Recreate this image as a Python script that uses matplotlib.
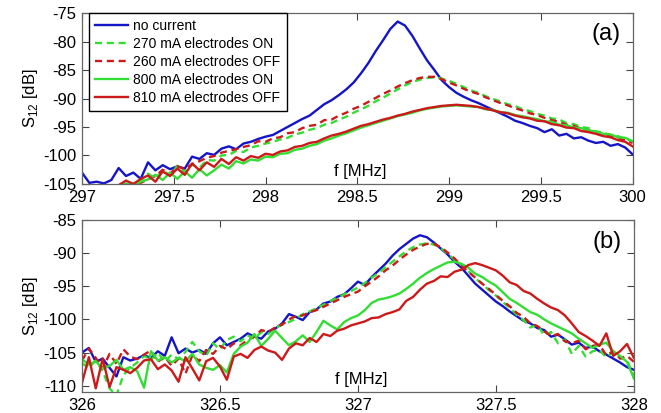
import numpy as np
import matplotlib
matplotlib.use("Agg")
import matplotlib.pyplot as plt
from matplotlib.ticker import StrMethodFormatter

plt.rcParams['font.family'] = ['Liberation Sans', 'DejaVu Sans']
plt.rcParams['mathtext.fontset'] = 'custom'
plt.rcParams['mathtext.rm'] = 'Liberation Sans'
plt.rcParams['axes.unicode_minus'] = False

# --- panel (a): resonance near 299 MHz ---
f_a = np.linspace(297.0, 300.0, 76)

a_no_current = [
    -103.0, -104.8, -104.6, -104.9, -104.3, -102.2, -103.6, -103.0, -104.1, -101.2,
    -102.6, -101.7, -102.4, -101.9, -102.3, -100.2, -100.6, -99.6, -99.9, -98.8,
    -98.4, -98.9, -97.9, -97.6, -97.1, -96.7, -96.4, -95.7, -95.0, -94.3,
    -93.6, -93.0, -92.0, -91.0, -90.3, -89.4, -88.4, -87.2, -85.6, -83.8,
    -81.7, -79.8, -77.8, -76.5, -77.2, -79.0, -81.2, -83.3, -85.0, -86.8,
    -88.0, -89.0, -89.7, -90.3, -90.8, -91.4, -92.0, -92.6, -93.2, -93.9,
    -94.3, -94.8, -95.2, -95.9, -95.4, -96.5, -96.2, -97.0, -96.8, -97.4,
    -97.8, -97.6, -98.3, -98.0, -98.6, -99.8]

a_270_on = [
    -107.5, -107.0, -106.8, -106.5, -106.3, -106.0, -105.6, -104.9, -104.4, -103.2,
    -104.0, -102.6, -103.5, -101.8, -102.9, -101.6, -102.2, -100.8, -100.9, -100.0,
    -99.9, -99.2, -99.4, -98.6, -98.3, -97.9, -97.6, -97.2, -96.9, -96.3,
    -96.0, -95.5, -95.2, -94.6, -94.3, -93.7, -93.2, -92.5, -91.9, -91.3,
    -90.5, -89.9, -89.1, -88.4, -87.7, -87.1, -86.7, -86.4, -86.3, -86.5,
    -86.9, -87.4, -88.0, -88.6, -89.0, -89.6, -90.1, -90.5, -91.0, -91.3,
    -91.9, -92.2, -92.7, -93.0, -93.5, -93.7, -94.3, -94.5, -95.0, -95.2,
    -95.8, -95.9, -96.5, -96.6, -97.1, -97.5]

a_260_off = [
    -107.0, -106.5, -106.8, -106.2, -106.0, -105.8, -105.5, -105.6, -104.8, -104.2,
    -103.6, -102.5, -103.2, -101.9, -102.4, -101.5, -101.0, -100.4, -100.1, -99.5,
    -99.2, -98.9, -98.5, -98.2, -97.5, -97.6, -97.0, -96.8, -96.1, -95.9,
    -95.2, -94.8, -94.6, -93.8, -93.7, -93.0, -92.5, -91.8, -91.3, -90.6,
    -89.9, -89.2, -88.6, -87.9, -87.3, -86.8, -86.4, -86.2, -86.2, -86.6,
    -87.2, -87.7, -88.3, -88.8, -89.2, -89.8, -90.3, -90.8, -91.2, -91.7,
    -92.1, -92.6, -92.9, -93.4, -93.8, -94.1, -94.6, -94.8, -95.3, -95.6,
    -95.9, -96.3, -96.6, -97.0, -97.3, -97.8]

a_800_on = [
    -108.0, -107.6, -107.3, -106.8, -106.2, -105.5, -104.9, -105.3, -104.6, -104.2,
    -103.4, -104.3, -103.0, -104.1, -102.8, -103.9, -102.4, -103.5, -102.6, -101.6,
    -102.3, -101.0, -101.4, -100.7, -100.9, -100.2, -100.3, -99.7, -99.6, -99.0,
    -98.8, -98.3, -98.0, -97.4, -97.0, -96.5, -96.1, -95.6, -95.1, -94.7,
    -94.3, -93.9, -93.5, -93.1, -92.8, -92.5, -92.1, -91.8, -91.6, -91.4,
    -91.3, -91.2, -91.3, -91.4, -91.5, -91.9, -92.0, -92.4, -92.5, -92.9,
    -93.1, -93.4, -93.6, -94.0, -94.1, -94.6, -94.7, -95.1, -95.2, -95.6,
    -95.8, -96.2, -96.3, -96.8, -96.9, -97.5]

a_810_off = [
    -107.5, -107.2, -106.9, -106.4, -105.8, -105.2, -104.4, -105.0, -104.1, -103.5,
    -104.6, -102.8, -103.6, -102.3, -103.4, -101.4, -102.6, -101.2, -102.0, -100.6,
    -101.5, -100.3, -100.9, -100.1, -100.4, -99.7, -99.9, -99.3, -99.1, -98.5,
    -98.3, -97.8, -97.6, -97.0, -96.5, -96.2, -95.8, -95.3, -94.8, -94.5,
    -94.1, -93.7, -93.4, -93.0, -92.7, -92.3, -92.0, -91.7, -91.5, -91.3,
    -91.2, -91.1, -91.2, -91.3, -91.5, -91.8, -92.1, -92.4, -92.6, -93.0,
    -93.3, -93.5, -93.9, -94.0, -94.5, -94.7, -95.1, -95.2, -95.7, -95.9,
    -96.2, -96.6, -96.8, -97.3, -97.6, -98.4]

# --- panel (b): resonance near 327 MHz ---
f_b = np.linspace(326.0, 328.0, 81)

b_no_current = [
    -105.0, -104.3, -106.4, -105.9, -107.3, -108.6, -105.7, -106.2, -105.9, -105.4,
    -105.8, -104.8, -105.5, -102.7, -105.1, -104.4, -105.0, -104.6, -105.2, -103.6,
    -102.7, -103.9, -103.4, -102.9, -102.1, -102.6, -102.9, -101.8, -101.4, -100.6,
    -99.2, -99.6, -100.1, -98.9, -98.5, -97.6, -97.3, -96.6, -96.2, -95.3,
    -94.3, -94.8, -93.6, -92.6, -91.6, -90.4, -89.4, -88.6, -87.8, -87.3,
    -87.6, -88.4, -89.3, -90.2, -91.3, -92.2, -93.4, -94.6, -95.5, -96.4,
    -97.3, -98.0, -98.8, -99.5, -100.2, -100.6, -101.3, -101.6, -102.6, -102.3,
    -103.0, -103.8, -103.5, -104.3, -104.1, -104.8, -105.3, -105.9, -106.5, -107.2,
    -107.6]

b_270_on = [
    -106.6, -107.3, -106.2, -107.8, -110.4, -111.5, -108.4, -107.3, -106.5, -105.5,
    -106.1, -105.0, -106.4, -105.3, -106.0, -104.9, -103.4, -104.8, -105.5, -103.6,
    -104.5, -103.1, -102.6, -103.3, -102.4, -102.9, -101.9, -102.2, -101.3, -100.8,
    -100.4, -99.9, -99.2, -98.8, -98.3, -97.8, -97.2, -96.8, -96.2, -95.7,
    -95.2, -94.5, -93.7, -93.0, -92.1, -91.3, -90.5, -89.7, -89.1, -88.7,
    -88.5, -88.7, -89.2, -90.1, -91.0, -91.8, -92.7, -93.8, -94.6, -95.6,
    -96.4, -97.4, -98.2, -99.3, -100.1, -101.2, -100.8, -102.4, -101.9, -103.6,
    -103.0, -105.2, -104.0, -105.6, -104.8, -104.6, -105.7, -104.9, -105.8, -106.2,
    -108.5]

b_260_off = [
    -106.2, -104.4, -105.8, -107.4, -105.2, -106.7, -104.5, -105.6, -106.0, -105.3,
    -104.7, -106.4, -105.6, -107.0, -105.9, -108.2, -105.4, -106.3, -104.6, -105.2,
    -104.0, -104.5, -103.6, -103.9, -103.1, -102.6, -101.6, -101.9, -101.2, -100.8,
    -100.0, -99.5, -99.4, -98.9, -98.6, -98.1, -97.6, -97.1, -96.6, -96.2,
    -95.8, -95.0, -94.3, -93.5, -92.6, -91.9, -91.0, -90.2, -89.5, -89.0,
    -88.6, -88.6, -89.1, -89.9, -90.8, -91.9, -92.8, -93.7, -94.6, -95.4,
    -96.3, -97.2, -98.0, -99.0, -99.6, -100.6, -101.0, -101.8, -102.5, -102.2,
    -103.3, -103.6, -103.2, -104.5, -104.0, -103.8, -105.4, -104.8, -105.9, -105.5,
    -106.4]

b_800_on = [
    -106.0, -106.8, -106.3, -107.4, -107.0, -106.1, -107.6, -107.2, -107.8, -110.3,
    -104.8, -106.2, -105.7, -106.5, -105.8, -106.3, -105.2, -106.8, -107.3, -107.6,
    -106.9, -108.0, -105.2, -104.1, -103.5, -102.2, -104.0, -102.9, -101.7, -102.8,
    -103.9, -103.3, -102.4, -103.4, -101.9, -100.2, -100.9, -101.5, -100.4, -99.8,
    -99.4, -98.6, -97.5, -97.0, -96.8, -96.5, -96.1, -95.4, -94.6, -93.7,
    -93.0, -92.4, -91.9, -91.4, -91.3, -91.6, -92.2, -93.1, -93.6, -94.3,
    -94.9, -95.9, -96.9, -97.5, -98.2, -98.9, -99.3, -100.0, -100.6, -101.1,
    -101.6, -102.1, -102.9, -103.6, -104.3, -103.8, -103.5, -104.8, -105.5, -106.4,
    -108.9]

b_810_off = [
    -109.6, -105.7, -110.4, -105.9, -110.2, -107.2, -107.6, -108.1, -107.3, -106.2,
    -106.0, -107.5, -106.8, -107.7, -109.4, -105.7, -107.4, -109.2, -106.3, -105.8,
    -107.1, -109.1, -105.6, -105.2, -105.8, -104.6, -104.1, -104.7, -105.0, -106.1,
    -104.4, -103.6, -103.9, -102.8, -103.4, -102.2, -102.5, -101.7, -101.4, -100.9,
    -100.6, -100.3, -99.8, -99.7, -99.2, -98.9, -98.5, -97.2, -96.6, -95.5,
    -94.6, -94.2, -93.5, -93.6, -92.8, -92.5, -91.8, -91.5, -91.8, -92.2,
    -92.6, -93.4, -94.4, -94.8, -95.7, -96.1, -96.9, -97.6, -98.2, -98.6,
    -99.4, -100.6, -101.9, -102.5, -103.2, -104.0, -102.1, -105.5, -104.8, -103.7,
    -105.8]

labels = ['no current', '270 mA electrodes ON', '260 mA electrodes OFF',
          '800 mA electrodes ON', '810 mA electrodes OFF']

BLUE = '#1414c8'
GREEN = '#33dd33'
RED = '#cc1a1a'
styles = [dict(color=BLUE, ls='-'),
          dict(color=GREEN, ls=(0, (3, 2))),
          dict(color=RED, ls=(0, (3, 2))),
          dict(color=GREEN, ls='-'),
          dict(color=RED, ls='-')]

fig = plt.figure(figsize=(6.61, 4.13), dpi=100)
ax1 = fig.add_axes([0.124, 0.5545, 0.833, 0.414])
ax2 = fig.add_axes([0.124, 0.0508, 0.835, 0.4165])

panels = [
    (ax1, f_a, [a_no_current, a_270_on, a_260_off, a_800_on, a_810_off],
     (297, 300), (-105, -75), np.arange(297, 300.01, 0.5), np.arange(-105, -74, 5), '(a)'),
    (ax2, f_b, [b_no_current, b_270_on, b_260_off, b_800_on, b_810_off],
     (326, 328), (-110.95, -85), np.arange(326, 328.01, 0.5), np.arange(-110, -84, 5), '(b)'),
]

for ax, f, series, xl, yl, xt, yt, tag in panels:
    for y, st, lab in zip(series, styles, labels):
        ax.plot(f, y, lw=1.7, label=lab, **st)
    ax.set_xlim(*xl)
    ax.set_ylim(*yl)
    ax.set_xticks(xt)
    ax.set_yticks(yt)
    ax.xaxis.set_major_formatter(StrMethodFormatter('{x:g}'))
    ax.yaxis.set_major_formatter(StrMethodFormatter('{x:g}'))
    ax.tick_params(direction='in', top=True, right=True, length=5,
                   width=0.8, color='#444444', labelsize=12, pad=4)
    for sp in ax.spines.values():
        sp.set_color('#666666')
        sp.set_linewidth(0.9)
    ax.set_ylabel(r'S$_{\mathregular{12}}$ [dB]', fontsize=12, labelpad=2)
    ax.text(0.505, 0.075, 'f [MHz]', transform=ax.transAxes,
            ha='center', va='center', fontsize=12)
    ax.text(0.951, 0.875, tag, transform=ax.transAxes,
            ha='center', va='center', fontsize=17)

leg = ax1.legend(loc='upper left', bbox_to_anchor=(0.012, 1.0), borderaxespad=0,
                 fontsize=10, fancybox=False, framealpha=1, edgecolor='black',
                 handlelength=2.4, handletextpad=0.35, labelspacing=0.28,
                 borderpad=0.45)
leg.get_frame().set_linewidth(1.0)

fig.savefig('out.png', dpi=100)
